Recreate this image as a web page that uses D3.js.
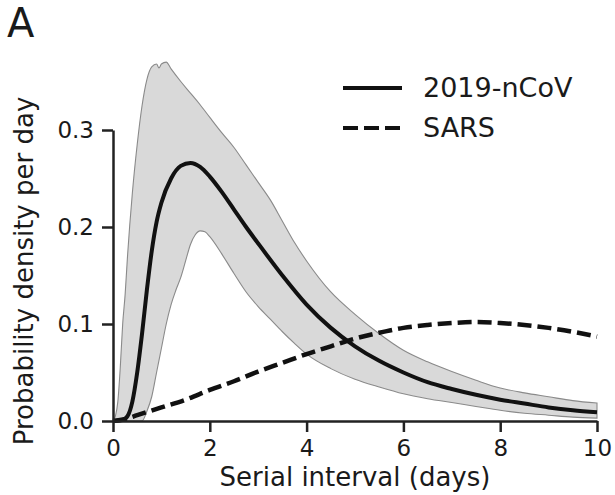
<!DOCTYPE html>
<html>
<head>
<meta charset="utf-8">
<script src="https://cdn.jsdelivr.net/npm/d3@7"></script>
<style>
  html, body { margin: 0; padding: 0; background: #fff; }
  svg { display: block; }
  text { font-family: "DejaVu Sans", Verdana, sans-serif; fill: #1a1a1a; }
</style>
</head>
<body>
<svg id="chart" width="615" height="495"></svg>
<script>
// ---- data ----
const ncovX = [0, 0.2, 0.3, 0.4, 0.5, 0.6, 0.7, 0.8, 0.9, 1.0, 1.2, 1.4, 1.6, 1.8, 2.0, 2.25, 2.5, 2.75, 3.0, 3.5, 4.0, 4.5, 5.0, 5.5, 6.0, 6.5, 7.0, 7.5, 8.0, 8.5, 9.0, 9.5, 10];
const ncovMean = [0, 0.001, 0.005, 0.02, 0.05, 0.09, 0.135, 0.175, 0.205, 0.225, 0.250, 0.263, 0.266, 0.262, 0.252, 0.236, 0.218, 0.200, 0.183, 0.150, 0.120, 0.096, 0.077, 0.062, 0.050, 0.040, 0.033, 0.027, 0.022, 0.018, 0.014, 0.011, 0.009];

const upperX = [0, 0.05, 0.1, 0.15, 0.2, 0.25, 0.3, 0.4, 0.5, 0.6, 0.7, 0.8, 0.9, 0.95, 1.0, 1.1, 1.2, 1.4, 1.6, 1.8, 2.0, 2.25, 2.5, 2.75, 3.0, 3.25, 3.5, 3.75, 4.0, 4.5, 5.0, 5.5, 6.0, 6.5, 7.0, 7.5, 8.0, 8.5, 9.0, 9.5, 10];
const upperY = [0, 0.005, 0.02, 0.055, 0.1, 0.13, 0.17, 0.235, 0.285, 0.325, 0.352, 0.365, 0.368, 0.364, 0.368, 0.370, 0.363, 0.350, 0.338, 0.326, 0.313, 0.297, 0.282, 0.264, 0.246, 0.228, 0.206, 0.184, 0.165, 0.133, 0.110, 0.090, 0.073, 0.061, 0.051, 0.042, 0.034, 0.029, 0.025, 0.021, 0.0185];

const lowerX = [0, 0.6, 0.7, 0.8, 0.9, 1.0, 1.1, 1.2, 1.3, 1.4, 1.5, 1.6, 1.7, 1.8, 1.9, 2.0, 2.25, 2.5, 2.75, 3.0, 3.25, 3.5, 3.75, 4.0, 4.5, 5.0, 5.5, 6.0, 6.5, 7.0, 7.5, 8.0, 8.5, 9.0, 9.5, 10];
const lowerY = [0, 0, 0.01, 0.025, 0.05, 0.075, 0.1, 0.12, 0.135, 0.148, 0.165, 0.182, 0.192, 0.196, 0.195, 0.19, 0.172, 0.152, 0.133, 0.118, 0.105, 0.092, 0.08, 0.069, 0.054, 0.043, 0.035, 0.028, 0.023, 0.019, 0.015, 0.011, 0.008, 0.006, 0.004, 0.003];

const sarsX = [0, 0.25, 0.5, 1.0, 1.5, 2.0, 2.5, 3.0, 3.5, 4.0, 4.5, 5.0, 5.5, 6.0, 6.5, 7.0, 7.5, 8.0, 8.5, 9.0, 9.5, 10];
const sarsY = [0, 0.002, 0.006, 0.014, 0.022, 0.032, 0.041, 0.051, 0.060, 0.069, 0.077, 0.085, 0.091, 0.096, 0.099, 0.101, 0.102, 0.101, 0.099, 0.096, 0.092, 0.087];

const xTicks = [0, 2, 4, 6, 8, 10];
const yTicks = [0, 0.1, 0.2, 0.3];
const seriesNames = ["2019-nCoV", "SARS"];
const panelLabel = "A";
const xTitle = "Serial interval (days)";
const yTitle = "Probability density per day";

// ---- drawing ----
const svg = d3.select("#chart");
const x = d3.scaleLinear().domain([0, 10]).range([113, 597]);
const y = d3.scaleLinear().domain([0, 0.3]).range([421, 130]);

// band: upper outline forward, lower outline back
const upperPts = upperX.map((v, i) => [x(v), y(upperY[i])]);
const lowerPts = lowerX.map((v, i) => [x(v), y(lowerY[i])]).reverse();
const lineGen = d3.line().curve(d3.curveMonotoneX);
const bandPath = lineGen(upperPts) + "L" + lineGen(lowerPts).slice(1) + "Z";
svg.append("path")
  .attr("d", bandPath)
  .attr("fill", "#d9d9d9")
  .attr("stroke", "#8a8a8a")
  .attr("stroke-width", 1.1);

const line = d3.line().x(d => x(d[0])).y(d => y(d[1])).curve(d3.curveMonotoneX);

svg.append("path")
  .datum(ncovX.map((v, i) => [v, ncovMean[i]]))
  .attr("d", line)
  .attr("fill", "none")
  .attr("stroke", "#111")
  .attr("stroke-width", 4);

svg.append("path")
  .datum(sarsX.map((v, i) => [v, sarsY[i]]))
  .attr("d", line)
  .attr("fill", "none")
  .attr("stroke", "#111")
  .attr("stroke-width", 4.5)
  .attr("stroke-dasharray", "14,6");

// axes
const xAxis = d3.axisBottom(x).tickValues(xTicks).tickFormat(d3.format("d"))
  .tickSizeInner(11).tickSizeOuter(0).tickPadding(8);
const yAxis = d3.axisLeft(y).tickValues(yTicks).tickFormat(d3.format(".1f"))
  .tickSizeInner(11).tickSizeOuter(0).tickPadding(8);

const gx = svg.append("g").attr("transform", "translate(0,421)").call(xAxis);
const gy = svg.append("g").attr("transform", "translate(113,0)").call(yAxis);
[gx, gy].forEach(g => {
  g.select(".domain").attr("stroke", "#222").attr("stroke-width", 2.5);
  g.selectAll(".tick line").attr("stroke", "#222").attr("stroke-width", 2.5);
  g.selectAll(".tick text").attr("font-size", 23).attr("fill", "#1a1a1a")
    .style("font-family", '"DejaVu Sans", Verdana, sans-serif');
});

// titles
svg.append("text").attr("x", 355).attr("y", 486)
  .attr("text-anchor", "middle").attr("font-size", 26).text(xTitle);
svg.append("text")
  .attr("transform", "translate(33,271) rotate(-90)")
  .attr("text-anchor", "middle").attr("font-size", 26).text(yTitle);
svg.append("text").attr("x", 7).attr("y", 37).attr("font-size", 40).text(panelLabel);

// legend
const legend = svg.append("g");
const legY = [88, 128];
const legDash = [null, "15,6"];
seriesNames.forEach((name, i) => {
  const l = legend.append("line")
    .attr("x1", 343).attr("x2", 402)
    .attr("y1", legY[i]).attr("y2", legY[i])
    .attr("stroke", "#111").attr("stroke-width", 4);
  if (legDash[i]) l.attr("stroke-dasharray", legDash[i]);
  legend.append("text").attr("x", 423).attr("y", legY[i] + 9)
    .attr("font-size", 27).text(name);
});
</script>
</body>
</html>
